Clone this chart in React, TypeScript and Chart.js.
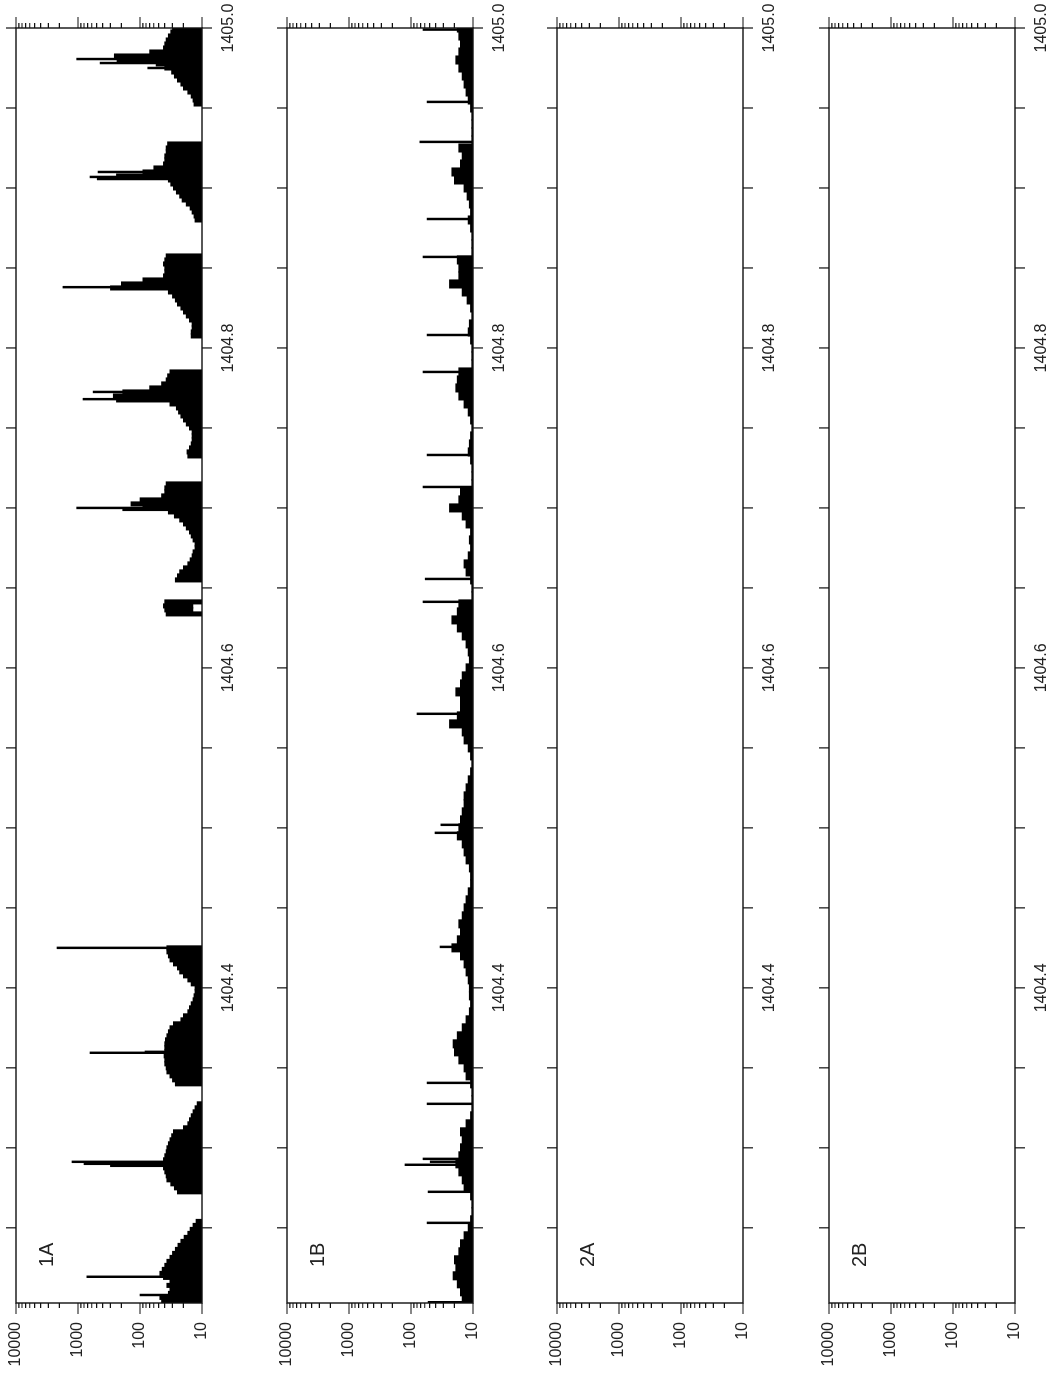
import React, { useEffect, useRef } from 'react';
import { Chart, registerables } from 'chart.js';
Chart.register(...registerables);

const X_MIN = 1404.203;
const X_MAX = 1405.0;
const Y_MIN = 10;
const Y_MAX = 10000;

const xTickValues = [1404.25, 1404.3, 1404.35, 1404.4, 1404.45, 1404.5, 1404.55, 1404.6, 1404.65, 1404.7, 1404.75, 1404.8, 1404.85, 1404.9, 1404.95, 1405.0];
const xTickLabels = [1404.4, 1404.6, 1404.8, 1405.0];
const yMajorTicks = [10, 100, 1000, 10000];
const yMinorTicks = [20, 30, 40, 50, 60, 70, 80, 90, 200, 300, 400, 500, 600, 700, 800, 900, 2000, 3000, 4000, 5000, 6000, 7000, 8000, 9000];

const panelNames = ['1A', '1B', '2A', '2B'];
const panelTops = [16, 287, 557, 829];

// ---- Panel 1A: envelope bins (start wavelength, highs), step 0.0025 ----
const STEP_1A = 0.0025;
const seg1A_a = [45, 48, 35, 33, 37, 33, 42, 48, 44, 40, 37, 33, 30, 27, 24.5, 22, 19.5, 17, 15.6, 14, 12.5];
const seg1A_b = [25, 28, 32, 37, 38, 40, 42, 45, 42, 40, 38, 37, 35, 33, 31, 29, 20, 17, 16, 15, 14, 13, 12];
const seg1A_c = [27, 30, 33, 37, 38, 40, 40, 41, 40, 40, 40, 39, 37, 35, 33, 29, 22, 20, 17, 16, 15, 14, 13.5, 13, 13, 15, 17, 20, 23, 25, 29, 33, 35, 37, 37];
const seg1A_d_high = [38, 40, 42, 40];
const seg1A_d_low = [10, 14, 14, 10];
const seg1A_e = [27, 25, 23, 20, 17, 15.6, 14.5, 14, 13, 13, 14, 15, 16, 18, 20, 23, 28, 35, 90, 140, 100, 45, 40, 40, 38];
const seg1A_f = [17, 17.5, 16, 15, 14.5, 14.5, 14.5, 16, 18, 20, 22, 24, 26, 33, 240, 270, 190, 70, 45, 38, 36, 33];
const seg1A_g = [15, 15, 14.5, 14.5, 16, 18, 20, 22, 25, 27, 30, 35, 300, 200, 90, 42, 40, 40, 42, 40, 38];
const seg1A_h = [13, 13.5, 14.5, 15.6, 18, 21, 23, 26, 29, 32, 35, 240, 90, 60, 42, 40, 40, 38, 38, 36];
const seg1A_i = [13.5, 14, 15, 17, 20, 22, 25, 28, 31, 40, 55, 235, 260, 70, 42, 40, 38, 35, 32, 30];
const seg1A_starts = [1404.204, 1404.2725, 1404.34, 1404.63375, 1404.655, 1404.7325, 1404.8075, 1404.88, 1404.9525];

const spikes1A_w = [1404.208, 1404.2194, 1404.28875, 1404.29, 1404.29125, 1404.3594, 1404.36, 1404.425, 1404.6988, 1404.7, 1404.768, 1404.7725, 1404.838, 1404.9056, 1404.9069, 1404.91, 1404.975, 1404.9781, 1404.9806];
const spikes1A_v = [100, 720, 300, 800, 1250, 640, 83, 2180, 190, 1050, 830, 570, 1750, 490, 640, 475, 75, 440, 1050];

// ---- Panel 1B: envelope bins, step 0.005 from 1404.205 ----
const STEP_1B = 0.005;
const START_1B = 1404.205;
const bins1B = [
  15, 16, 18, 21, 19, 20, 17, 16, 14, 12,
  11, 10.5, 10.5, 11,
  14, 15, 17, 19, 17, 16, 15, 16, 13,
  11, 10.5, 10.5, 10.5, 11,
  13, 14, 17, 20, 21, 18, 15, 13,
  11.5, 11, 11.5, 11.5,
  12, 13, 14, 16, 22, 18, 16, 17, 15, 14, 13, 12,
  11, 11, 11.5,
  13, 14, 15, 18, 17, 16, 15, 14, 14, 13, 12,
  11, 10.5, 11,
  12, 14, 15, 24, 18, 16, 16, 19, 16, 15, 13,
  11.5, 12, 13, 15, 18, 22, 18, 17,
  10.5, 10.5, 11,
  13, 14, 12,
  11, 11.5, 11,
  13, 15, 24, 17, 16,
  10.5, 10.5, 10.5, 11, 12, 11.5, 11, 10.5, 11,
  12, 14, 17, 19, 18, 17,
  10.5, 10.5, 10.5, 11, 12, 11.5, 10.5, 11,
  12.5, 15, 24, 17, 17, 18,
  10.5, 10.5, 10.5, 11, 12, 11, 11.5,
  12.5, 14, 20, 22, 16, 15, 17,
  10.5, 10.5, 10.5, 10.5, 11,
  12, 13, 14, 15, 17, 19, 17, 16, 17, 18,
];
const spikes1B_w = [1404.2035, 1404.2531, 1404.2725, 1404.2894, 1404.2913, 1404.2931, 1404.3275, 1404.3406, 1404.4256, 1404.4969, 1404.5019, 1404.5713, 1404.6413, 1404.6556, 1404.7131, 1404.7331, 1404.785, 1404.8081, 1404.8569, 1404.8806, 1404.9288, 1404.9538, 1404.999];
const spikes1B_v = [53, 55, 53, 125, 49, 64, 55, 55, 34, 41, 33, 80, 64, 59, 64, 55, 64, 55, 64, 55, 72, 55, 64];

function buildDatasets(idx: number) {
  const bars: any[] = [];
  const spikes: any[] = [];
  if (idx === 0) {
    const segs = [seg1A_a, seg1A_b, seg1A_c, seg1A_d_high, seg1A_e, seg1A_f, seg1A_g, seg1A_h, seg1A_i];
    segs.forEach((s, si) => {
      s.forEach((h, i) => {
        const lo = s === seg1A_d_high ? seg1A_d_low[i] : Y_MIN;
        bars.push({ x: seg1A_starts[si] + i * STEP_1A, y: [lo, h] });
      });
    });
    spikes1A_w.forEach((w, i) => spikes.push({ x: w, y: [Y_MIN, spikes1A_v[i]] }));
    return [
      { data: bars, backgroundColor: '#000', borderWidth: 0, barThickness: 4.4, grouped: false },
      { data: spikes, backgroundColor: '#000', borderWidth: 0, barThickness: 1.8, grouped: false },
    ];
  }
  if (idx === 1) {
    bins1B.forEach((h, i) => bars.push({ x: START_1B + i * STEP_1B, y: [Y_MIN, h] }));
    spikes1B_w.forEach((w, i) => spikes.push({ x: w, y: [Y_MIN, spikes1B_v[i]] }));
    return [
      { data: bars, backgroundColor: '#000', borderWidth: 0, barThickness: 8.4, grouped: false },
      { data: spikes, backgroundColor: '#000', borderWidth: 0, barThickness: 1.8, grouped: false },
    ];
  }
  return [];
}

const framePlugin: any = {
  id: 'frame',
  afterDraw(chart: any, _args: any, opts: any) {
    const { ctx, chartArea: a, scales } = chart;
    const xs = scales.x;
    const ys = scales.y;
    ctx.save();
    ctx.strokeStyle = '#111';
    ctx.lineWidth = 1.4;
    ctx.strokeRect(a.left, a.top, a.right - a.left, a.bottom - a.top);
    ctx.beginPath();
    ctx.lineWidth = 1.2;
    for (const t of xTickValues) {
      const px = xs.getPixelForValue(t);
      ctx.moveTo(px, a.bottom);
      ctx.lineTo(px, a.bottom + 10);
      ctx.moveTo(px, a.top);
      ctx.lineTo(px, a.top - 10);
    }
    for (const t of yMajorTicks) {
      const py = ys.getPixelForValue(t);
      ctx.moveTo(a.left, py);
      ctx.lineTo(a.left - 11, py);
      ctx.moveTo(a.right, py);
      ctx.lineTo(a.right + 11, py);
    }
    for (const t of yMinorTicks) {
      const py = ys.getPixelForValue(t);
      ctx.moveTo(a.left, py);
      ctx.lineTo(a.left - 5, py);
      ctx.moveTo(a.right, py);
      ctx.lineTo(a.right + 5, py);
    }
    ctx.stroke();
    ctx.fillStyle = '#222';
    ctx.font = '20px "Liberation Sans", Arial, sans-serif';
    ctx.textBaseline = 'alphabetic';
    ctx.textAlign = 'left';
    ctx.fillText(opts.label, a.left + 36, a.top + 37);
    ctx.restore();
  },
};

const tickFont = { family: '"Liberation Sans", Arial, sans-serif', size: 16 };

function Panel({ idx }: { idx: number }) {
  const ref = useRef<HTMLCanvasElement>(null);
  useEffect(() => {
    const chart = new Chart(ref.current as HTMLCanvasElement, {
      type: 'bar',
      data: { datasets: buildDatasets(idx) as any },
      options: {
        animation: false,
        responsive: false,
        events: [],
        layout: { padding: { top: 20, right: 28, left: 0, bottom: 0 } },
        plugins: {
          legend: { display: false },
          tooltip: { enabled: false },
          frame: { label: panelNames[idx] },
        } as any,
        scales: {
          x: {
            type: 'linear',
            min: X_MIN,
            max: X_MAX,
            offset: false,
            grid: { display: false, drawTicks: false },
            border: { display: false },
            afterBuildTicks: (s: any) => {
              s.ticks = xTickLabels.map((v) => ({ value: v }));
            },
            afterFit: (s: any) => {
              s.height = 45;
              s.paddingLeft = 0;
              s.paddingRight = 0;
            },
            ticks: {
              autoSkip: false,
              maxRotation: 0,
              minRotation: 0,
              padding: 17,
              color: '#222',
              font: tickFont,
              callback: (v: any) => Number(v).toFixed(1),
            },
          },
          y: {
            type: 'logarithmic',
            min: Y_MIN,
            max: Y_MAX,
            grid: { display: false, drawTicks: false },
            border: { display: false },
            afterBuildTicks: (s: any) => {
              s.ticks = yMajorTicks.map((v) => ({ value: v }));
            },
            afterFit: (s: any) => {
              s.width = 75;
              s.paddingTop = 0;
              s.paddingBottom = 0;
            },
            ticks: {
              autoSkip: false,
              padding: 19,
              color: '#222',
              font: tickFont,
              callback: (v: any) => String(v),
            },
          },
        } as any,
      },
      plugins: [framePlugin],
    });
    return () => chart.destroy();
  }, [idx]);
  return (
    <canvas
      ref={ref}
      width={1378}
      height={251}
      style={{ position: 'absolute', left: 0, top: panelTops[idx] - 20, width: 1378, height: 251, display: 'block' }}
    />
  );
}

export default function App() {
  return (
    <div style={{ position: 'fixed', left: 0, top: 0, width: 1057, height: 1378, overflow: 'hidden', background: '#fff' }}>
      <div
        style={{
          position: 'absolute',
          left: 0,
          top: 0,
          width: 1378,
          height: 1057,
          transformOrigin: '0 0',
          transform: 'translateY(1378px) rotate(-90deg)',
          background: '#fff',
        }}
      >
        {panelNames.map((_, i) => (
          <Panel key={i} idx={i} />
        ))}
      </div>
    </div>
  );
}
